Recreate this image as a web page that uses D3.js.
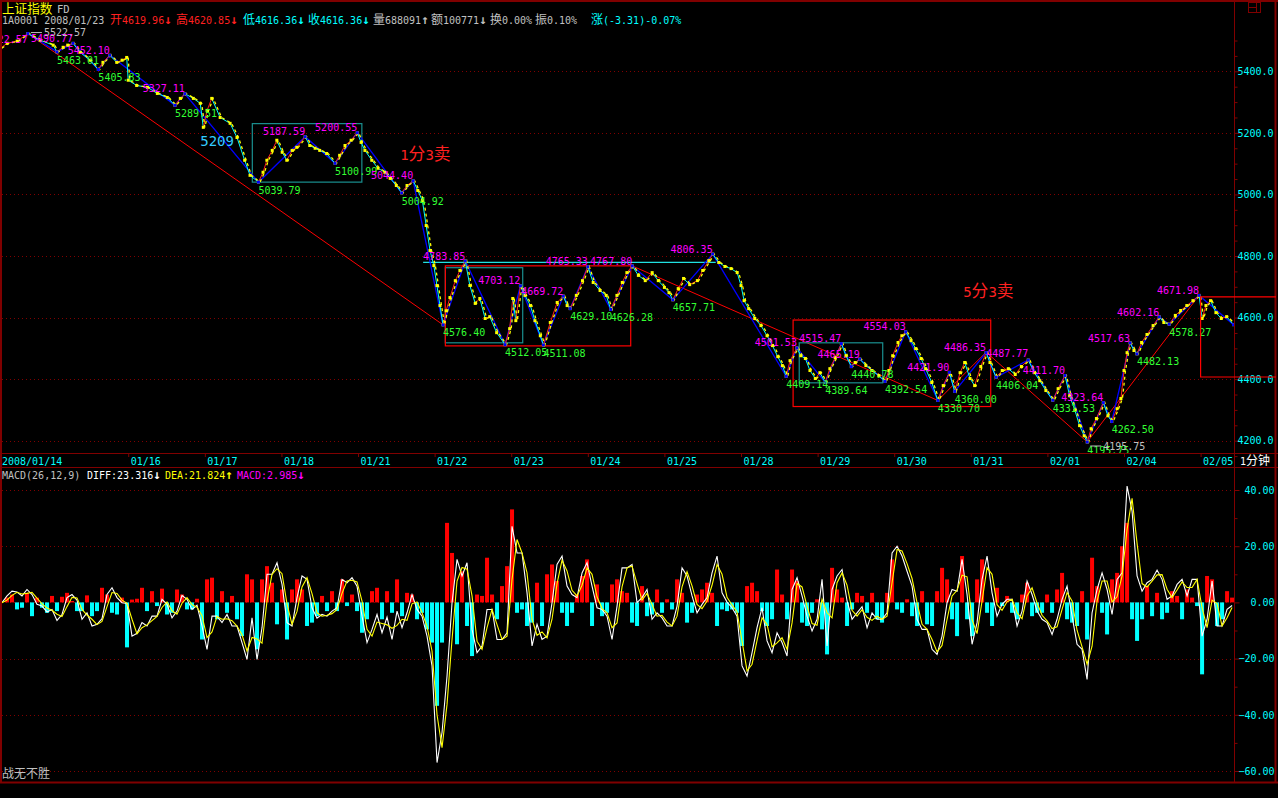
<!DOCTYPE html>
<html><head><meta charset="utf-8">
<script src="https://cdn.jsdelivr.net/npm/d3@7"></script>
<style>html,body{margin:0;padding:0;background:#000;overflow:hidden}</style>
</head><body><svg id="c" width="1278" height="798"></svg>
<script>
// ---------------- DATA ----------------
const tradingDays = ["01/14","01/15","01/16","01/17","01/18","01/21","01/22","01/23","01/24","01/25","01/28","01/29","01/30","01/31","02/01","02/04","02/05"];
const shownDayTicks = [2,3,4,5,6,7,8,9,10,11,12,13,14,15,16];
const firstDateLabel = "2008/01/14";
const priceTicks = [4200,4400,4600,4800,5000,5200,5400];
const priceMinorTicks = [4150,4250,4300,4350,4450,4500,4550,4650,4700,4750,4850,4900,4950,5050,5100,5150,5250,5300,5350,5450,5500];
const macdTicks = [40,20,0,-20,-40,-60];
const macdMinorTicks = [30,10,-10,-30,-50];

// price path [day, value]
const pricePath = [[0.33,5475],[0.42,5491],[0.55,5498],[0.69,5522.57],[0.85,5501],[1.02,5485],[1.07,5463.01],[1.15,5478],[1.21,5485],[1.28,5490.77],[1.37,5462],[1.50,5436],[1.61,5405.83],[1.67,5429],[1.76,5452.10],[1.85,5429],[1.92,5436],[1.98,5445],[2.00,5371],[2.11,5354],[2.25,5348],[2.38,5328],[2.51,5315],[2.61,5289.51],[2.68,5312],[2.74,5327.11],[2.85,5312],[2.94,5296],[2.98,5218],[3.03,5273],[3.09,5312],[3.20,5250],[3.33,5231],[3.42,5185],[3.52,5111],[3.59,5062],[3.70,5039.79],[3.76,5072],[3.81,5111],[3.88,5143],[3.94,5176],[4.01,5137],[4.07,5111],[4.14,5143],[4.20,5153],[4.31,5187.59],[4.37,5159],[4.44,5150],[4.50,5143],[4.59,5133],[4.70,5100.99],[4.76,5127],[4.83,5159],[4.91,5176],[4.99,5200.55],[5.04,5169],[5.09,5143],[5.18,5111],[5.26,5085],[5.35,5072],[5.42,5052],[5.50,5029],[5.57,5004.92],[5.64,5029],[5.72,5044.40],[5.78,5013],[5.84,4980],[5.89,4899],[5.94,4818],[5.99,4769],[6.03,4704],[6.07,4639],[6.11,4576.40],
[6.15,4622],[6.20,4665],[6.27,4720],[6.33,4753],[6.40,4783.85],[6.46,4704],[6.53,4646],[6.59,4662],[6.66,4597],[6.72,4603],[6.81,4551],[6.92,4512.05],[6.98,4564],[7.02,4662],[7.06,4590],[7.12,4703.12],[7.18,4672],[7.25,4639],[7.31,4590],[7.38,4541],[7.42,4511.08],[7.51,4584],[7.60,4649],[7.68,4669.72],[7.73,4639],[7.77,4629.10],[7.85,4672],[7.93,4720],[8.00,4765.33],[8.07,4714],[8.16,4688],[8.24,4672],[8.30,4626.28],[8.38,4672],[8.45,4714],[8.51,4746],[8.58,4767.80],[8.66,4737],[8.75,4720],[8.84,4746],[8.92,4720],[9.00,4698],[9.06,4681],[9.11,4657.71],[9.18,4694],[9.25,4727],[9.33,4707],[9.43,4720],[9.50,4753],[9.58,4785],[9.63,4806.35],[9.71,4779],[9.79,4766],[9.87,4759],[9.95,4746],[10.00,4704],[10.04,4655],[10.10,4629],[10.18,4597],[10.26,4574],[10.34,4541],[10.41,4509],[10.48,4473],[10.54,4444],[10.59,4409.14],
[10.64,4460],[10.73,4501.53],[10.78,4476],[10.84,4467],[10.90,4428],[10.97,4402],[11.03,4421],[11.10,4389.64],[11.16,4434],[11.23,4470],[11.31,4515.47],[11.37,4476],[11.44,4440.78],[11.49,4454],[11.55,4465.19],[11.63,4444],[11.71,4428],[11.80,4411],[11.88,4392.54],[11.93,4428],[11.98,4476],[12.05,4519],[12.10,4541],[12.15,4554.03],[12.22,4525],[12.28,4499],[12.35,4467],[12.41,4434],[12.49,4389],[12.57,4330.70],[12.64,4379],[12.72,4421.90],[12.79,4360.00],[12.86,4421],[12.92,4454],[12.99,4402],[13.05,4379],[13.13,4441],[13.20,4486.35],[13.25,4454],[13.33,4406.04],[13.41,4428],[13.49,4434],[13.58,4415],[13.66,4441],[13.75,4462],[13.83,4421],[13.90,4395],[13.98,4363],[14.07,4331.53],[14.14,4369],[14.23,4411.70],[14.29,4346],[14.36,4298],[14.42,4249],[14.48,4216],[14.52,4195.75],[14.57,4239],[14.64,4272],[14.73,4323.64],[14.79,4281],[14.84,4262.50],[14.91,4304],[14.96,4337],[15.00,4428],[15.04,4486],[15.08,4517.63],[15.13,4493],[15.17,4482.13],[15.23,4519],[15.30,4545],[15.38,4574],[15.46,4602.16],[15.52,4584],[15.59,4578.27],[15.67,4607],[15.74,4623],[15.82,4639],[15.90,4655],[15.98,4671.98],[16.02,4597],[16.07,4639],[16.13,4655],[16.20,4616],[16.27,4597],[16.34,4603],[16.43,4577]];

// zigzag pivots [day, value, label kind]
const pivots = [[0.69,5522.57,""],[1.07,5463.01,"B"],[1.28,5490.77,"T"],[1.61,5405.83,"B"],[1.76,5452.10,"T"],[2.61,5289.51,"B"],[2.74,5327.11,"T"],[3.70,5039.79,"B"],[4.31,5187.59,"T"],[4.70,5100.99,"B"],[4.99,5200.55,"T"],[5.57,5004.92,"B"],[5.72,5044.40,"T"],[6.11,4576.40,"B"],[6.40,4783.85,"T"],[6.92,4512.05,"B"],[7.12,4703.12,"T"],[7.42,4511.08,"B"],[7.68,4669.72,"T"],[7.77,4629.10,"B"],[8.00,4765.33,"T"],[8.30,4626.28,"B"],[8.58,4767.80,"T"],[9.11,4657.71,"B"],[9.63,4806.35,"T"],[10.59,4409.14,"B"],[10.73,4501.53,"T"],[11.10,4389.64,"B"],[11.31,4515.47,"T"],[11.44,4440.78,"B"],[11.55,4465.19,"T"],[11.88,4392.54,"B"],[12.15,4554.03,"T"],[12.57,4330.70,"B"],[12.72,4421.90,"T"],[12.79,4360.00,"B"],[13.20,4486.35,"T"],[13.33,4406.04,"B"],[13.75,4462,""],[14.07,4331.53,"B"],[14.23,4411.70,"T"],[14.52,4195.75,"B"],[14.73,4323.64,"T"],[14.84,4262.50,"B"],[15.08,4517.63,"T"],[15.17,4482.13,"B"],[15.46,4602.16,"T"],[15.59,4578.27,"B"],[15.98,4671.98,"T"],[16.43,4577,""]];

// extra labels [day, centre value, anchor, text]
const extraLabels = [[13.20,4485,"start","4487.77"],[0.69,5503,"end","5522.57"]];
const extremes = [[0.69,5522.57,"max"],[14.52,4195.75,"min"]];
// boxes [day0, day1, low, high]
const tealBoxes = [[3.62,5.05,5040,5230],[6.14,7.15,4518,4762],[10.76,11.85,4388,4518]];
const redBoxes = [[6.14,8.56,4508,4768],[10.68,13.26,4311,4592]];
const openRedBox = [16.00,4407,4667];
const cyanLevel = [5.85,9.67,4779];
const redSegments = [[[0.69,5522.57],[6.11,4576.40]],[[8.58,4767.80],[12.57,4330.70],[13.20,4487.77],[14.52,4195.75],[15.98,4671.98]]];
const notes = [["5209",2.94,5174,"#33ccff"],["1分3卖",5.55,5129,"#ff2020"],["5分3卖",12.90,4683,"#ff2020"]];

// MACD samples (one every 15 minutes of chart width)
const macdStartDay = 0.352, macdStepDay = 0.06528;
const macdDiff = [-0.1,2.3,4.0,3.7,2.3,4.6,2.8,-0.7,-1.3,-3.4,
-2.5,-6.4,-4.3,1.7,2.8,0.8,-6.0,-3.7,-8.4,-7.8,
-5.8,2.8,5.2,1.7,-0.1,-0.4,-12.0,-11.0,-7.2,-8.4,
-4.9,-4.9,1.1,-0.7,-5.5,-3.1,2.5,1.1,-2.5,-1.0,
-8.4,-16.7,-4.9,-4.9,-7.2,-4.3,-8.4,-8.4,-14.3,-20.3,
-5.5,-20.3,-9.0,10.0,10.0,14.1,6.4,-7.2,-8.4,1.7,
9.4,8.2,-1.9,-5.6,-4.3,-4.9,-3.1,-1.9,8.2,7.0,
8.8,5.8,-4.9,-14.3,-9.6,-4.3,-10.8,-5.2,-13.2,-3.1,
-9.0,-3.7,2.8,-2.5,-4.9,-12.0,-22.6,-57.0,-46.3,-26.2,
-0.1,15.3,9.4,14.1,-9.6,-17.9,-15.5,-2.5,-2.5,-13.2,
-13.2,-10.8,27.1,17.6,17.6,3.4,-15.5,-7.8,-13.2,-12.0,
-0.1,13.5,16.5,5.8,2.8,1.7,10.5,14.1,5.8,-1.9,
-2.5,-4.9,-13.2,-1.3,12.3,12.3,13.5,-0.1,1.7,4.6,
-6.0,-3.7,-5.5,-8.4,-8.4,-1.3,12.3,9.4,2.3,-3.7,
-0.7,1.7,10.5,16.5,3.4,0.1,-1.9,-4.9,-22.6,-26.2,
-17.9,-9.0,-1.9,-13.7,-17.9,-10.8,-14.3,-19.1,4.6,8.8,
2.3,-4.9,-10.2,-6.0,8.2,-15.5,4.6,9.4,11.7,0.5,
-6.0,-3.7,-1.5,-9.0,-3.7,-6.0,-6.0,-3.7,17.6,20.0,
16.5,11.1,5.8,-6.0,-9.6,-9.6,-16.7,-18.5,-12.0,-0.1,
4.6,4.0,15.3,2.8,-14.9,-7.2,8.2,16.5,3.4,-4.9,
-0.7,1.1,1.1,-8.4,-3.1,7.6,2.8,-3.1,-6.0,-7.2,
-11.4,-6.0,1.1,5.8,-4.9,-14.9,-16.7,-27.4,-3.7,4.6,
10.5,4.6,-4.3,8.2,10.5,41.4,32.5,9.4,4.0,7.0,
8.2,11.5,8.2,1.1,2.3,6.4,8.2,2.3,8.2,8.2,
-12.0,-6.0,7.6,-8.4,-8.4,-2.5,-1.1];
const macdDea = [-0.1,0.8,2.5,3.6,3.0,3.2,3.6,1.5,-0.5,-2.0,
-2.8,-4.2,-5.0,-1.5,1.8,1.6,-2.5,-4.5,-6.0,-7.9,
-6.8,-1.5,3.5,3.2,0.8,-0.3,-6.0,-11.2,-9.0,-8.0,
-6.5,-5.0,-1.8,0.2,-3.0,-4.2,-0.3,1.7,-0.8,-1.7,
-4.7,-12.5,-10.5,-5.0,-6.0,-5.8,-6.5,-8.4,-11.5,-17.3,
-12.5,-13.0,-14.5,0.5,10.0,12.0,10.2,-0.5,-7.8,-3.2,
5.5,8.8,3.1,-3.7,-4.9,-4.6,-4.0,-2.5,3.2,7.6,
7.9,7.3,0.5,-9.6,-12.0,-7.0,-7.5,-8.0,-9.2,-8.2,
-6.0,-6.4,-0.5,0.2,-3.7,-8.5,-17.3,-40.0,-51.7,-36.3,
-13.2,7.6,12.4,11.8,2.3,-13.8,-16.7,-9.0,-2.5,-7.9,
-13.2,-12.0,8.2,22.4,17.6,10.5,-6.0,-11.7,-10.5,-12.6,
-6.0,6.7,15.0,11.2,4.3,2.3,6.1,12.3,10.0,2.0,
-2.2,-3.7,-9.0,-7.3,5.5,12.3,12.9,6.7,0.8,3.2,
-0.7,-4.9,-4.6,-7.0,-8.4,-4.9,5.5,10.9,5.9,-0.7,
-2.2,0.5,6.1,13.5,10.0,1.8,-0.9,-3.4,-13.8,-24.4,
-22.0,-13.5,-5.5,-7.8,-15.8,-14.4,-12.6,-16.7,-7.3,6.7,
5.5,-1.3,-7.5,-8.1,1.1,-3.7,-5.5,7.0,10.5,6.1,
-2.8,-4.9,-2.6,-5.3,-6.4,-4.9,-6.0,-4.9,7.0,18.8,
18.3,13.8,8.5,-0.1,-7.8,-9.6,-13.2,-17.6,-15.3,-6.0,
2.3,4.3,9.7,9.1,-6.1,-11.1,0.5,12.4,10.0,-0.8,
-2.8,0.2,1.1,-3.7,-5.8,2.3,5.2,-0.2,-4.6,-6.6,
-9.3,-8.7,-2.5,3.5,0.5,-9.9,-15.8,-22.0,-15.6,0.5,
7.6,7.6,0.2,2.0,9.4,26.0,37.0,21.0,6.7,5.5,
7.6,9.8,9.9,4.7,1.7,4.4,7.3,5.3,5.3,8.2,
-1.9,-9.0,0.8,-0.4,-8.4,-5.5,-1.8];
const macdHist = [0,1.7,2.8,-2.5,-1.9,3.4,-4.9,1.7,-1.9,-3.7,
2.3,-3.1,2.0,3.4,0.5,-3.1,-3.1,2.5,-4.9,-3.1,
5.2,2.8,-3.7,-4.3,1.7,-16.0,1.0,1.3,5.2,-3.1,
4.0,-1.3,4.9,-4.3,-3.7,4.6,2.8,-2.5,-2.5,1.3,
-13.2,8.2,8.8,-6.0,4.0,-3.7,2.3,-6.0,-12.0,10.0,
8.2,-16.7,8.2,12.9,7.0,-7.8,4.6,-13.2,4.6,8.2,
4.6,-8.4,-7.2,-4.9,2.3,-3.1,4.0,-3.1,8.2,-1.3,
2.8,-3.1,-10.8,-6.0,4.0,5.2,-6.0,4.0,-3.7,8.2,
-4.9,3.4,2.8,-6.0,-3.7,-9.6,-14.3,-36.8,-14.3,28.3,
17.6,-14.9,11.1,-8.4,-19.1,2.8,2.3,15.9,2.8,-6.0,
5.8,12.9,33.1,-3.7,-2.5,-8.4,-7.2,7.0,-8.4,10.0,
13.5,7.6,-3.7,-8.4,-3.7,2.8,9.4,15.3,-8.4,6.4,
-4.9,-3.7,6.4,8.2,4.0,3.4,-7.2,-8.4,5.8,-4.9,
-4.3,4.6,-3.7,1.1,-2.5,8.2,3.4,-7.2,-3.7,2.8,
4.6,7.0,3.4,-8.4,-2.5,-3.1,-2.5,-3.7,-15.5,5.8,
7.0,4.0,-3.1,-8.4,-6.0,11.7,2.8,-6.0,11.7,7.6,
-7.2,-8.4,-3.7,1.1,-9.6,-18.5,12.3,4.6,1.7,-8.4,
-2.5,3.4,2.3,-3.7,3.4,-6.0,-7.2,3.4,15.3,-2.5,
-3.7,1.1,-4.9,-8.4,4.0,-7.8,-8.4,4.0,12.3,8.2,
-6.0,-12.0,16.5,-6.0,-12.0,8.2,15.3,-3.7,-8.4,5.2,
-1.3,2.3,-3.7,-6.0,2.8,7.0,-4.9,-3.7,-3.7,2.8,
-3.7,4.6,10.5,-6.0,-7.2,-8.4,4.0,-13.2,15.9,5.8,
-3.7,-11.4,8.2,10.5,20.0,28.3,-6.0,-13.7,-6.0,5.8,
-4.9,3.4,-6.0,-3.7,4.0,2.3,-6.0,4.6,1.7,-1.3,
-25.6,9.4,8.2,-8.4,-6.0,4.0,1.7];

const headerTitle = [["上证指数","#ffff00",2],["FD","#c0c0c0",57]];
const headerInfo = [["1A0001 2008/01/23","#c0c0c0",2],["开4619.96↓","#ff2020",110],["高4620.85↓","#ff2020",176],["低4616.36↓","#00ffff",243],["收4616.36↓","#00ffff",308],["量688091↑","#c0c0c0",373],["额100771↓","#c0c0c0",431],["换0.00%","#c0c0c0",490],["振0.10%","#c0c0c0",535],["涨(-3.31)-0.07%","#00ffff",591]];
const macdHeader = [["MACD(26,12,9)","#c0c0c0",2],["DIFF:23.316↓","#ffffff",87],["DEA:21.824↑","#ffff00",165],["MACD:2.985↓","#ff00ff",237]];

// ---------------- DRAW ----------------
const W=1278,H=798,FRAME="#800000";
const MONO="'DejaVu Sans Mono','Liberation Mono',monospace";
const CJK="'Noto Sans CJK SC','DejaVu Sans',sans-serif";
const svg=d3.select("#c");
const x=d3.scaleLinear().domain([0.352,16.436]).range([2,1234]);
const yP=d3.scaleLinear().domain([4200,5400]).range([440.7,71.3]);
const yM=d3.scaleLinear().domain([-60,40]).range([771,490]);
const AX=1234.5;

svg.append("rect").attr("width",W).attr("height",H).attr("fill","#000");
const defs=svg.append("defs");
defs.append("clipPath").attr("id","cpMain").append("rect").attr("x",2).attr("y",24).attr("width",1232).attr("height",429);
defs.append("clipPath").attr("id","cpMacd").append("rect").attr("x",2).attr("y",469).attr("width",1232).attr("height",313);

function rich(g,xx,cy,str,color,size){
  const t=g.append("text").attr("x",xx).attr("y",cy+size*0.38).attr("fill",color)
    .style("font-family",MONO).style("font-size",size+"px");
  const runs=str.match(/[\u3400-\u9fff]+|[\u2190-\u21ff]+|[^\u3400-\u9fff\u2190-\u21ff]+/g);
  runs.forEach(r=>{const cjk=/[\u3400-\u9fff]/.test(r), arr=/[\u2190-\u21ff]/.test(r);
    t.append("tspan").text(r).style("font-family",cjk?CJK:MONO)
      .style("font-size",(cjk?size*1.2:(arr?size*1.25:size))+"px")
      .style("font-weight",arr?"bold":null);});
  return t;
}

// gridlines
const grid=svg.append("g");
priceTicks.forEach(t=>grid.append("line").attr("x1",2).attr("x2",AX).attr("y1",Math.round(yP(t))+0.5).attr("y2",Math.round(yP(t))+0.5).attr("stroke",FRAME).attr("stroke-dasharray","1,3"));
macdTicks.forEach(t=>grid.append("line").attr("x1",2).attr("x2",AX).attr("y1",Math.round(yM(t))+0.5).attr("y2",Math.round(yM(t))+0.5).attr("stroke",FRAME).attr("stroke-dasharray","1,3"));

// frame
const fr=svg.append("g").attr("stroke",FRAME).attr("fill","none");
fr.append("line").attr("x1",0).attr("x2",W).attr("y1",1).attr("y2",1).attr("stroke-width",2);
fr.append("line").attr("x1",1).attr("x2",1).attr("y1",0).attr("y2",783).attr("stroke-width",2);
fr.append("line").attr("x1",AX).attr("x2",AX).attr("y1",0).attr("y2",783);
fr.append("line").attr("x1",1275.5).attr("x2",1275.5).attr("y1",0).attr("y2",783).attr("stroke-width",2);
fr.append("line").attr("x1",0).attr("x2",W).attr("y1",453.5).attr("y2",453.5);
fr.append("line").attr("x1",0).attr("x2",W).attr("y1",467.5).attr("y2",467.5);
fr.append("line").attr("x1",0).attr("x2",W).attr("y1",782.5).attr("y2",782.5).attr("stroke-width",2);
fr.append("rect").attr("x",1248.5).attr("y",2.5).attr("width",12).attr("height",10);
fr.append("line").attr("x1",1256.5).attr("x2",1256.5).attr("y1",2.5).attr("y2",12.5);
fr.append("line").attr("x1",1248.5).attr("x2",1256.5).attr("y1",7.5).attr("y2",7.5);

// axes
function styleAxis(g,anchor,dx){
  g.select(".domain").remove();
  g.selectAll(".tick line").attr("stroke",FRAME);
  g.selectAll(".tick text").attr("fill","#00ffff").style("font-family",MONO).style("font-size","10px")
    .attr("text-anchor",anchor).attr("x",dx);
}
const gy=svg.append("g").attr("transform",`translate(${AX},0)`)
  .call(d3.axisRight(yP).tickValues(priceTicks).tickSize(5).tickFormat(d3.format(".1f")));
styleAxis(gy,"end",39);
svg.append("g").attr("transform",`translate(${AX},0)`)
  .call(d3.axisRight(yP).tickValues(priceMinorTicks).tickSize(3).tickFormat(""))
  .call(g=>{g.select(".domain").remove();g.selectAll(".tick line").attr("stroke",FRAME);});
const gm=svg.append("g").attr("transform",`translate(${AX},0)`)
  .call(d3.axisRight(yM).tickValues(macdTicks).tickSize(5).tickFormat(d3.format(".2f")));
styleAxis(gm,"end",40);
svg.append("g").attr("transform",`translate(${AX},0)`)
  .call(d3.axisRight(yM).tickValues(macdMinorTicks).tickSize(3).tickFormat(""))
  .call(g=>{g.select(".domain").remove();g.selectAll(".tick line").attr("stroke",FRAME);});
const gx=svg.append("g").attr("transform","translate(0,454)")
  .call(d3.axisBottom(x).tickValues(shownDayTicks).tickSize(3).tickFormat(i=>tradingDays[i]));
gx.select(".domain").remove();
gx.selectAll(".tick line").attr("stroke",FRAME);
gx.selectAll(".tick text").attr("fill","#00ffff").style("font-family",MONO).style("font-size","10px")
  .attr("text-anchor","start").attr("x",2).attr("y",11).attr("dy",null);
svg.append("text").attr("x",x.range()[0]).attr("y",465).attr("fill","#00ffff").style("font-family",MONO).style("font-size","10px").text(firstDateLabel);
rich(svg,1240,461,"1分钟","#ffffff",10);

// header
headerTitle.forEach(h=>rich(svg,h[2],9,h[0],h[1],10.5));
headerInfo.forEach(h=>rich(svg,h[2],20,h[0],h[1],10));
macdHeader.forEach(h=>rich(svg,h[2],475,h[0],h[1],10));
rich(svg,2,774,"战无不胜","#c0c0c0",10);

// ---- main panel ----
const main=svg.append("g").attr("clip-path","url(#cpMain)");
const line=d3.line().x(d=>x(d[0])).y(d=>yP(d[1]));
redSegments.forEach(s=>main.append("path").attr("d",line(s)).attr("fill","none").attr("stroke","#ff0000").attr("stroke-width",1));
tealBoxes.forEach(b=>main.append("rect").attr("x",x(b[0])).attr("y",yP(b[3])).attr("width",x(b[1])-x(b[0])).attr("height",yP(b[2])-yP(b[3])).attr("fill","none").attr("stroke","#1a9090").attr("stroke-width",1.2));
redBoxes.forEach(b=>main.append("rect").attr("x",x(b[0])).attr("y",yP(b[3])).attr("width",x(b[1])-x(b[0])).attr("height",yP(b[2])-yP(b[3])).attr("fill","none").attr("stroke","#ff0000").attr("stroke-width",1.2));
main.append("line").attr("x1",x(cyanLevel[0])).attr("x2",x(cyanLevel[1])).attr("y1",yP(cyanLevel[2])).attr("y2",yP(cyanLevel[2])).attr("stroke","#20e0e0").attr("stroke-width",1.2);
svg.append("path").attr("d",`M${W-2},${yP(openRedBox[2])}H${x(openRedBox[0])}V${yP(openRedBox[1])}H${W-2}`).attr("fill","none").attr("stroke","#ff0000").attr("stroke-width",1.2);

// zigzag
main.append("path").attr("d",line(pivots)).attr("fill","none").attr("stroke","#0000ff").attr("stroke-width",1.3);
// price: direction coloured segments
for(let i=1;i<pricePath.length;i++){
  const a=pricePath[i-1],b=pricePath[i];
  main.append("line").attr("x1",x(a[0])).attr("y1",yP(a[1])).attr("x2",x(b[0])).attr("y2",yP(b[1]))
    .attr("stroke",b[1]>a[1]?"#ff2020":"#00ffff").attr("stroke-width",1);
}
main.append("path").attr("d",line(pricePath)).attr("fill","none").attr("stroke","#ffff00").attr("stroke-width",1.3)
  .attr("stroke-dasharray","3,3").attr("transform","translate(1.5,0)");
main.selectAll("rect.pd").data(pricePath).join("rect").attr("class","pd")
  .attr("x",d=>x(d[0])-1.5).attr("y",d=>yP(d[1])-1.5).attr("width",3).attr("height",3).attr("fill","#ffff00");
main.selectAll("rect.zd").data(pivots).join("rect").attr("class","zd")
  .attr("x",d=>x(d[0])-1.5).attr("y",d=>yP(d[1])-1.5).attr("width",3).attr("height",3).attr("fill","#0000ff");

// labels
const lab=main.append("g").style("font-family",MONO).style("font-size","10px");
pivots.forEach(p=>{
  if(p[2]==="T") lab.append("text").attr("x",x(p[0])).attr("y",yP(p[1])-5+3.6).attr("text-anchor","end").attr("fill","#ff00ff").text(p[1].toFixed(2));
  if(p[2]==="B") lab.append("text").attr("x",x(p[0])).attr("y",yP(p[1])+8+3.6).attr("text-anchor","start").attr("fill","#33ff33").text(p[1].toFixed(2));
});
extraLabels.forEach(e=>lab.append("text").attr("x",x(e[0])).attr("y",yP(e[1])+3.6).attr("text-anchor",e[2]).attr("fill","#ff00ff").text(e[3]));
extremes.forEach(e=>{
  const cx=x(e[0]), cy=yP(e[1])+(e[2]==="max"?-1:4);
  lab.append("line").attr("x1",cx+3).attr("x2",cx+14).attr("y1",cy).attr("y2",cy).attr("stroke","#c0c0c0");
  lab.append("text").attr("x",cx+16).attr("y",cy+3.6).attr("fill","#c0c0c0").text(e[1].toFixed(2));
});
notes.forEach(n=>rich(main,x(n[1]),yP(n[2]),n[0],n[3],14).style("font-family","'Liberation Sans',sans-serif"));

// ---- MACD ----
const mg=svg.append("g").attr("clip-path","url(#cpMacd)");
const mx=i=>x(macdStartDay+i*macdStepDay);
mg.selectAll("rect.h").data(macdHist).join("rect").attr("class","h")
  .attr("x",(d,i)=>mx(i)-2).attr("width",4)
  .attr("y",d=>Math.min(yM(0),yM(d))).attr("height",d=>Math.abs(yM(d)-yM(0)))
  .attr("fill",d=>d>=0?"#ff0000":"#00ffff");
const ml=d3.line().x((d,i)=>mx(i)).y(d=>yM(d));
mg.append("path").attr("d",ml(macdDiff)).attr("fill","none").attr("stroke","#ffffff").attr("stroke-width",1.1);
mg.append("path").attr("d",ml(macdDea)).attr("fill","none").attr("stroke","#ffff00").attr("stroke-width",1.1);
</script></body></html>
